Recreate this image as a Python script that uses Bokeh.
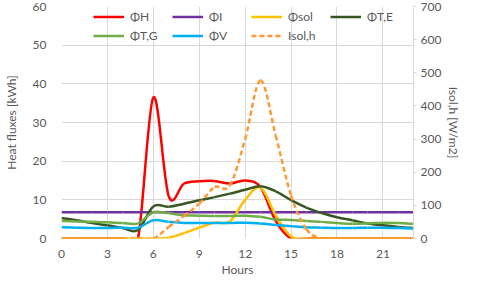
import numpy as np
from bokeh.plotting import figure
from bokeh.models import Range1d, LinearAxis, FixedTicker, Legend, LegendItem
from bokeh.embed import file_html
from bokeh.resources import INLINE

hours = list(range(24))
phi_h = [0, 0, 0, 0, 0, 0, 36.5, 11.0, 14.2, 14.8, 14.9, 14.2, 15.0, 13.3, 4.5, 0, 0, 0, 0, 0, 0, 0, 0, 0]
phi_i = [6.8] * 24
phi_sol = [0, 0, 0, 0, 0, 0, 0, 0.2, 1.4, 2.8, 4.1, 4.4, 10.0, 13.2, 6.0, 0.5, 0, 0, 0, 0, 0, 0, 0, 0]
phi_te = [5.3, 4.7, 4.0, 3.4, 2.7, 2.2, 8.3, 8.2, 9.0, 9.9, 10.7, 11.6, 12.6, 13.5, 12.2, 9.9, 8.0, 6.6, 5.5, 4.7, 3.9, 3.4, 3.0, 2.7]
phi_tg = [4.5, 4.4, 4.3, 4.2, 4.0, 3.9, 6.8, 6.5, 6.0, 5.9, 5.8, 5.8, 5.9, 5.6, 4.9, 4.8, 4.5, 4.3, 4.0, 3.8, 3.9, 4.1, 4.0, 3.8]
phi_v = [2.9, 2.8, 2.7, 2.7, 2.8, 2.8, 4.7, 4.3, 4.0, 4.0, 4.0, 4.0, 4.1, 3.9, 3.5, 3.2, 2.9, 2.8, 2.7, 2.7, 2.8, 2.8, 2.7, 2.6]
isol_h = [0, 0, 0, 0, 0, 0, 0, 35, 68, 105, 155, 160, 300, 477, 310, 130, 28, 0, 0, 0, 0, 0, 0, 0]

x_ticks = [0, 3, 6, 9, 12, 15, 18, 21]
y_ticks = [0, 10, 20, 30, 40, 50, 60]
y2_ticks = [0, 100, 200, 300, 400, 500, 600, 700]

FONT = "Lato"
TXT = "#595959"
GRID = "#d9d9d9"

p = figure(width=464, height=279, output_backend="svg", toolbar_location=None,
           x_range=Range1d(0, 23), y_range=Range1d(0, 60),
           min_border_left=40, min_border_right=40, min_border_top=6, min_border_bottom=30)
p.outline_line_color = None
p.extra_y_ranges = {"right": Range1d(0, 700)}

for ax in (p.xaxis[0], p.yaxis[0]):
    ax.axis_line_color = None
    ax.major_tick_line_color = None
    ax.minor_tick_line_color = None
    ax.major_label_text_font = FONT
    ax.major_label_text_font_size = "12px"
    ax.major_label_text_color = TXT
    ax.axis_label_text_font = FONT
    ax.axis_label_text_font_size = "12px"
    ax.axis_label_text_color = TXT
    ax.axis_label_text_font_style = "normal"

p.xaxis.ticker = FixedTicker(ticks=x_ticks)
p.yaxis.ticker = FixedTicker(ticks=y_ticks)
p.xaxis.axis_label = "Hours"
p.yaxis.axis_label = "Heat fluxes [kWh]"
p.xaxis.major_label_standoff = 5
p.xaxis.axis_label_standoff = 1
p.yaxis.major_label_standoff = 9
p.yaxis.axis_label_standoff = 11

ax2 = LinearAxis(y_range_name="right", ticker=FixedTicker(ticks=y2_ticks),
                 axis_label="Isol,h [W/m2]")
ax2.axis_line_color = GRID
ax2.major_tick_line_color = GRID
ax2.major_tick_in = 0
ax2.major_tick_out = 3
ax2.minor_tick_line_color = None
ax2.major_label_standoff = 4
ax2.major_label_text_font = FONT
ax2.major_label_text_font_size = "12px"
ax2.major_label_text_color = TXT
ax2.axis_label_text_font = FONT
ax2.axis_label_text_font_size = "12px"
ax2.axis_label_text_color = TXT
ax2.axis_label_text_font_style = "normal"
ax2.axis_label_standoff = 2
p.add_layout(ax2, "right")

p.xgrid.ticker = FixedTicker(ticks=x_ticks)
p.ygrid.ticker = FixedTicker(ticks=y_ticks)
p.xgrid.grid_line_color = GRID
p.ygrid.grid_line_color = GRID


def smooth(xs, ys):
    xs = np.asarray(xs, float)
    ys = np.asarray(ys, float)
    n = len(xs)
    d = dict(x0=[], y0=[], x1=[], y1=[], cx0=[], cy0=[], cx1=[], cy1=[])
    for i in range(n - 1):
        a = max(i - 1, 0)
        b = min(i + 2, n - 1)
        d["x0"].append(xs[i]); d["y0"].append(ys[i])
        d["x1"].append(xs[i + 1]); d["y1"].append(ys[i + 1])
        d["cx0"].append(xs[i] + (xs[i + 1] - xs[a]) / 6)
        d["cy0"].append(ys[i] + (ys[i + 1] - ys[a]) / 6)
        d["cx1"].append(xs[i + 1] - (xs[b] - xs[i]) / 6)
        d["cy1"].append(ys[i + 1] - (ys[b] - ys[i]) / 6)
    return d


series = [
    ("ΦH", phi_h, "#FF0000", "solid", "default"),
    ("ΦI", phi_i, "#7030A0", "solid", "default"),
    ("Φsol", phi_sol, "#FFC000", "solid", "default"),
    ("ΦT,E", phi_te, "#375623", "solid", "default"),
    ("ΦT,G", phi_tg, "#70AD47", "solid", "default"),
    ("ΦV", phi_v, "#00B0F0", "solid", "default"),
    ("Isol,h", isol_h, "#FF9933", "5 3", "right"),
]

items = []
for name, ys, col, dash, rng in series:
    r = p.bezier(source=smooth(hours, ys), x0="x0", y0="y0", x1="x1", y1="y1",
                 cx0="cx0", cy0="cy0", cx1="cx1", cy1="cy1",
                 line_color=col, line_width=2.5, line_dash=dash, y_range_name=rng)
    items.append(LegendItem(label=name, renderers=[r]))

leg = Legend(items=items, orientation="horizontal", ncols=4, location=(32, 194))
leg.background_fill_alpha = 0
leg.border_line_alpha = 0
leg.margin = 0
leg.padding = 0
leg.spacing = 2
leg.glyph_width = 31
leg.glyph_height = 17
leg.label_height = 17
leg.label_width = 40
leg.label_standoff = 6
leg.label_text_font = FONT
leg.label_text_font_size = "12px"
leg.label_text_color = TXT
p.add_layout(leg, "center")

open("out.html", "w").write(file_html(p, INLINE))
